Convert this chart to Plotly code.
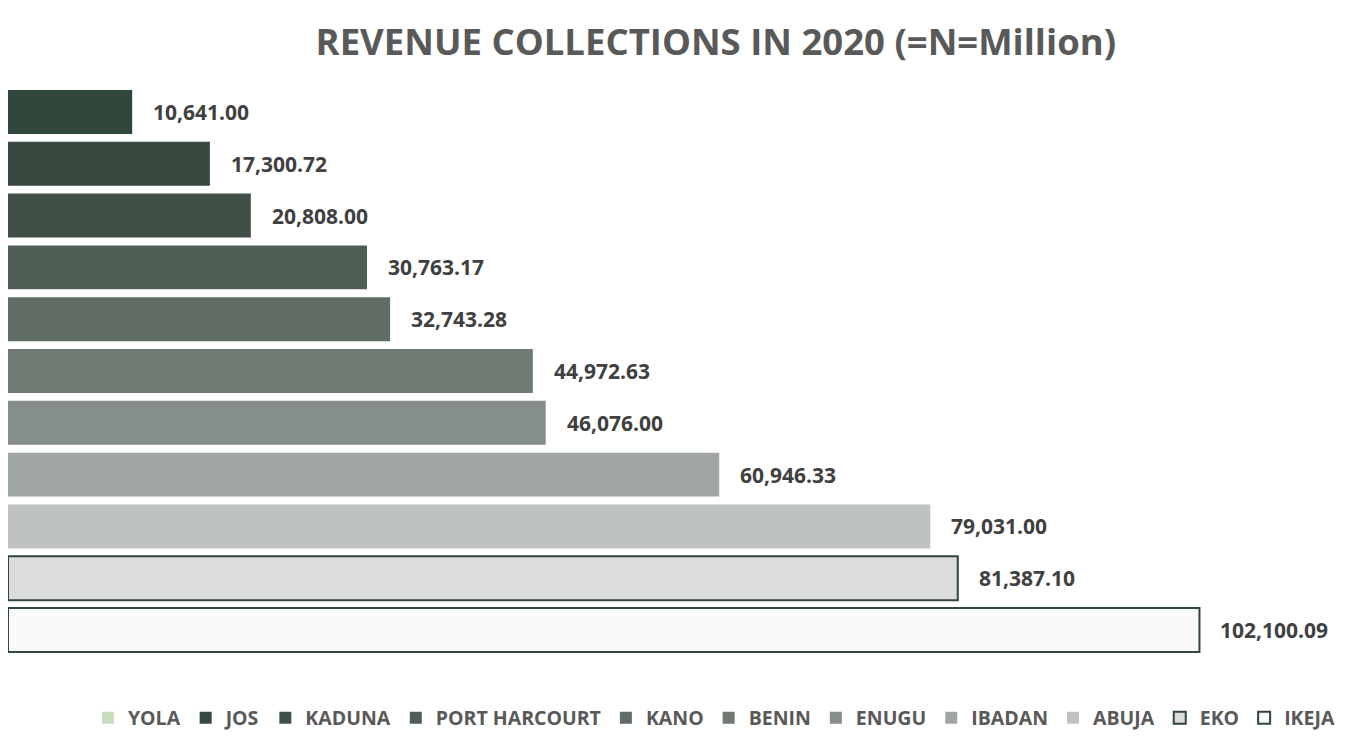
import plotly.graph_objects as go

regions = ["YOLA", "JOS", "KADUNA", "PORT HARCOURT", "KANO", "BENIN",
           "ENUGU", "IBADAN", "ABUJA", "EKO", "IKEJA"]
revenue = [10641.00, 17300.72, 20808.00, 30763.17, 32743.28, 44972.63,
           46076.00, 60946.33, 79031.00, 81387.10, 102100.09]
labels = ["10,641.00", "17,300.72", "20,808.00", "30,763.17", "32,743.28",
          "44,972.63", "46,076.00", "60,946.33", "79,031.00", "81,387.10",
          "102,100.09"]
bar_colors = ["#2f463b", "#37493f", "#405046", "#4f5e55", "#5f6d64", "#707a72",
              "#858e88", "#9fa5a2", "#bec3c1", "#dadddc", "#fafafa"]
legend_colors = ["#c9dcc1", "#3d5447", "#5a6b60", "#6f7c74", "#848f88", "#979f9b",
                 "#adb3b0", "#c3c7c5", "#d8dbd9", "#dadddc", "#fafafa"]
border = "#2f463b"

fig = go.Figure()
for i, (name, val) in enumerate(zip(regions, revenue)):
    outlined = name in ("EKO", "IKEJA")
    line = dict(color=border, width=2) if outlined else dict(width=0)
    fig.add_trace(go.Bar(
        x=[val], y=[name], orientation="h", name=name,
        marker=dict(color=bar_colors[i], line=line),
        showlegend=(i != 0), legendrank=i + 1,
        hoverinfo="x+name",
    ))
    if i == 0:
        fig.add_trace(go.Bar(
            x=[None], y=[name], orientation="h", name=name,
            marker=dict(color=legend_colors[i], line=dict(width=0)),
            showlegend=True, legendrank=i + 1, hoverinfo="skip",
        ))

for name, val, lab in zip(regions, revenue, labels):
    fig.add_annotation(x=val, y=name, text=lab, showarrow=False,
                       xanchor="left", xshift=19,
                       font=dict(family="Open Sans", size=21, color="#404040",
                                 weight="bold"))

fig.update_layout(
    width=1356, height=742,
    paper_bgcolor="white", plot_bgcolor="white",
    margin=dict(l=0, r=14, t=78, b=94, autoexpand=False),
    barmode="overlay", bargap=0.152,
    title=dict(text="<b>REVENUE COLLECTIONS IN 2020 (=N=Million)</b>",
               x=0.522, xref="container", xanchor="center",
               y=0.954, yref="container", yanchor="middle",
               font=dict(family="Open Sans", size=36.5, color="#595959")),
    xaxis=dict(range=[0, 115000], visible=False, showgrid=False, zeroline=False),
    yaxis=dict(categoryorder="array", categoryarray=regions, autorange="reversed",
               visible=False, showgrid=False),
    legend=dict(orientation="h", x=0.9925, xanchor="right", y=-0.109, yanchor="middle",
                font=dict(family="Open Sans", size=19.5, color="#595959", weight="bold"),
                itemwidth=30, tracegroupgap=0, traceorder="normal"),
    showlegend=True,
)

fig.write_html("out.html")
